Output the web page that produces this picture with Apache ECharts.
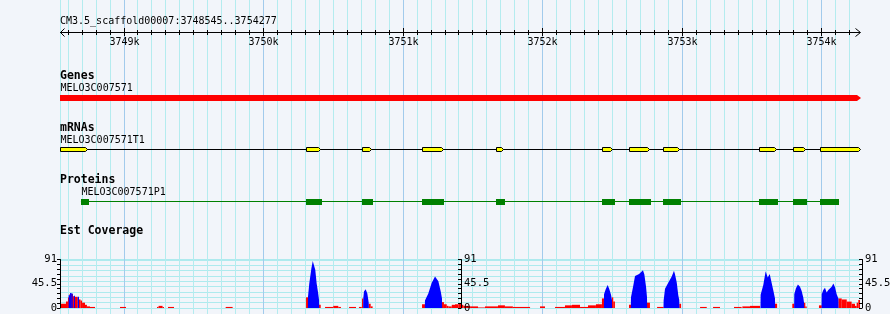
<!DOCTYPE html>
<html><head><meta charset="utf-8">
<script src="https://cdn.jsdelivr.net/npm/echarts@6/dist/echarts.min.js"></script>
<style>html,body{margin:0;padding:0;background:#f2f5fa}#c{width:890px;height:314px}</style>
</head><body><div id="c"></div><script>
// ---------- data ----------
const seqStart = 3748545, seqEnd = 3754277;
const titleText = 'CM3.5_scaffold00007:3748545..3754277';
const majorTicks = [3749000, 3750000, 3751000, 3752000, 3753000, 3754000];
const majorLabels = ['3749k', '3750k', '3751k', '3752k', '3753k', '3754k'];
const minorStep = 100;
const trackTitles = ['Genes', 'mRNAs', 'Proteins', 'Est Coverage'];
const geneName = 'MELO3C007571';
const mrnaName = 'MELO3C007571T1';
const proteinName = 'MELO3C007571P1';
const geneSpan = [3748545, 3754277];
const mrnaExons = [
  [3748545, 3748740], [3750308, 3750410], [3750711, 3750771], [3751141, 3751287],
  [3751669, 3751719], [3752431, 3752502], [3752622, 3752765], [3752866, 3752978],
  [3753554, 3753673], [3753797, 3753883], [3753991, 3754277]
];
const cdsBlocks = [
  [3748695, 3748753], [3750308, 3750422], [3750709, 3750788], [3751139, 3751297],
  [3751669, 3751734], [3752429, 3752522], [3752622, 3752780], [3752866, 3752995],
  [3753554, 3753690], [3753797, 3753898], [3753991, 3754127]
];
const covMax = 91;
const covLabels = ['0', '45.5', '91'];
// coverage histogram blocks: [start, end, value]
const redBlocks = [
  [3748545,3748588,8],[3748588,3748602,12],[3748602,3748613,20],[3748613,3748638,26],
  [3748638,3748645,22],[3748645,3748652,21],[3748652,3748670,21],[3748670,3748681,20],
  [3748681,3748692,16],[3748692,3748703,14],[3748703,3748724,10],[3748724,3748738,6],
  [3748738,3748760,3],[3748760,3748796,2],
  [3748975,3749018,2],
  [3749240,3749251,2],[3749251,3749280,4],[3749280,3749290,2],
  [3749319,3749362,2],
  [3749732,3749782,2],
  [3750308,3750322,20],
  [3750401,3750413,6],
  [3750444,3750503,2],[3750503,3750539,4],[3750539,3750558,2],
  [3750616,3750666,2],
  [3750687,3750707,2],
  [3750709,3750718,18],
  [3750757,3750771,8],[3750771,3750785,3],
  [3751139,3751160,7],
  [3751282,3751296,11],[3751296,3751316,7],
  [3751316,3751328,4],[3751328,3751352,3],[3751352,3751375,6],[3751375,3751399,7],[3751399,3751418,8],
  [3751418,3751435,6],[3751435,3751483,4],[3751483,3751540,3],[3751540,3751590,1],
  [3751590,3751683,3],[3751683,3751733,5],[3751733,3751790,3],[3751790,3751913,2],
  [3751984,3752020,3],
  [3752092,3752163,2],[3752163,3752213,5],[3752213,3752271,6],[3752271,3752328,2],
  [3752328,3752385,5],[3752385,3752428,7],
  [3752428,3752443,18],
  [3752500,3752509,20],[3752509,3752521,12],
  [3752622,3752636,6],
  [3752751,3752772,10],
  [3752823,3752870,2],
  [3752982,3752995,8],
  [3753131,3753179,2],
  [3753224,3753274,2],
  [3753374,3753429,2],
  [3753434,3753489,3],
  [3753489,3753561,4],
  [3753668,3753683,8],
  [3753792,3753806,8],
  [3753876,3753885,10],[3753885,3753895,3],
  [3753983,3754003,5],
  [3754122,3754146,18],[3754146,3754182,16],[3754182,3754217,12],[3754217,3754241,8],
  [3754241,3754253,4],[3754253,3754265,10],[3754265,3754277,15]
];
const blueBlocks = [
  [3748607,3748617,24],[3748617,3748628,28],[3748628,3748636,27],
  [3748645,3748652,23],[3748672,3748681,21]
];
// coverage peak profiles: [position, value]
const bluePeaks = [
  [[3750322,21],[3750331,46],[3750346,74],[3750356,88],[3750365,91],[3750374,72],[3750384,46],[3750394,29],[3750401,15]],
  [[3750718,18],[3750723,31],[3750735,35],[3750747,27],[3750757,10]],
  [[3751160,14],[3751184,27],[3751208,47],[3751232,59],[3751239,61],[3751256,50],[3751273,31],[3751282,18]],
  [[3752443,26],[3752455,35],[3752469,43],[3752481,35],[3752493,25],[3752500,15]],
  [[3752636,20],[3752651,40],[3752665,60],[3752679,63],[3752694,64],[3752708,67],[3752722,71],[3752732,63],[3752744,40],[3752751,20]],
  [[3752870,14],[3752880,36],[3752904,48],[3752928,59],[3752944,70],[3752951,64],[3752964,48],[3752975,24],[3752982,15]],
  [[3753565,25],[3753584,43],[3753601,69],[3753616,57],[3753630,64],[3753639,53],[3753656,33],[3753668,18]],
  [[3753806,26],[3753818,37],[3753832,44],[3753847,40],[3753859,32],[3753871,19],[3753876,10]],
  [[3754003,26],[3754014,34],[3754026,38],[3754038,29],[3754050,34],[3754062,37],[3754074,40],[3754086,46],[3754098,39],[3754110,26],[3754122,18]]
];

// ---------- style / layout ----------
const mono = '"DejaVu Sans Mono", "Liberation Mono", monospace';
const smallFont = '10px ' + mono;
const boldFont = 'bold 11.5px ' + mono;
const minorGridColor = '#b4ecef';
const majorGridColor = '#a2cbec';
const H = 314;

const tickData = [[seqStart, 0, 0]];
for (let t = Math.ceil(seqStart / minorStep) * minorStep; t <= seqEnd; t += minorStep) {
  tickData.push([t, 0, majorTicks.includes(t) ? 2 : 1]);
}
const px = (api, v) => api.coord([v, 0])[0];
const crisp = x => Math.round(x) + 0.5;

function renderGridLine(params, api) {
  const kind = api.value(2);
  const x = crisp(px(api, api.value(0)));
  return { type: 'line', shape: { x1: x, y1: 0, x2: x, y2: H },
    style: { stroke: kind === 2 ? majorGridColor : minorGridColor, lineWidth: 1 } };
}
function renderRulerTick(params, api) {
  const kind = api.value(2);
  const children = [];
  if (kind > 0) {
    const x = crisp(px(api, api.value(0)));
    children.push({ type: 'line', shape: { x1: x, y1: kind === 2 ? 28 : 30, x2: x, y2: kind === 2 ? 36 : 35 },
      style: { stroke: '#000', lineWidth: 1 } });
    if (kind === 2) {
      const i = majorTicks.indexOf(api.value(0));
      children.push({ type: 'text', style: { text: majorLabels[i], x: x, y: 42.5, align: 'center',
        verticalAlign: 'middle', font: smallFont, fill: '#000' } });
    }
  }
  return { type: 'group', children };
}
function renderRulerLine(params, api) {
  const x1 = px(api, api.value(0)), x2 = px(api, api.value(1));
  return { type: 'group', children: [
    { type: 'line', shape: { x1: x1, y1: 32.5, x2: x2, y2: 32.5 }, style: { stroke: '#000', lineWidth: 1 } },
    { type: 'polyline', shape: { points: [[x1 + 4.5, 28.5], [x1 + 0.5, 32.5], [x1 + 4.5, 36.5]] }, style: { stroke: '#000', fill: null, lineWidth: 1 } },
    { type: 'polyline', shape: { points: [[x2 - 4.5, 28.5], [x2 + 0.5, 32.5], [x2 - 4.5, 36.5]] }, style: { stroke: '#000', fill: null, lineWidth: 1 } },
    { type: 'text', style: { text: titleText, x: x1, y: 21, align: 'left', verticalAlign: 'middle', font: smallFont, fill: '#000' } }
  ] };
}
function renderGene(params, api) {
  const x1 = px(api, api.value(0)), x2 = px(api, api.value(1));
  return { type: 'group', children: [
    { type: 'polygon', shape: { points: [[x1, 95], [x2 - 3, 95], [x2 + 1, 98], [x2 - 3, 101], [x1, 101]] }, style: { fill: '#ff0000' } },
    { type: 'text', style: { text: geneName, x: x1 + 0.5, y: 88.5, align: 'left', verticalAlign: 'middle', font: smallFont, fill: '#000' } }
  ] };
}
function renderMrnaLine(params, api) {
  const x1 = px(api, api.value(0)), x2 = px(api, api.value(1));
  return { type: 'group', children: [
    { type: 'line', shape: { x1: x1, y1: 149.5, x2: x2, y2: 149.5 }, style: { stroke: '#000', lineWidth: 1 } },
    { type: 'text', style: { text: mrnaName, x: x1 + 0.5, y: 140.5, align: 'left', verticalAlign: 'middle', font: smallFont, fill: '#000' } }
  ] };
}
function renderExon(params, api) {
  const x1 = Math.round(px(api, api.value(0))) + 0.5, x2 = Math.round(px(api, api.value(1))) + 0.5;
  return { type: 'polygon', shape: { points: [[x1, 147.5], [x2 - 2, 147.5], [x2, 149.5], [x2 - 2, 151.5], [x1, 151.5]] },
    style: { fill: '#ffff00', stroke: '#000', lineWidth: 1 } };
}
function renderProteinLine(params, api) {
  const x1 = px(api, api.value(0)), x2 = px(api, api.value(1));
  return { type: 'group', children: [
    { type: 'line', shape: { x1: x1, y1: 201.5, x2: x2, y2: 201.5 }, style: { stroke: '#008000', lineWidth: 1 } },
    { type: 'text', style: { text: proteinName, x: x1 + 0.5, y: 192.5, align: 'left', verticalAlign: 'middle', font: smallFont, fill: '#000' } }
  ] };
}
function renderCds(params, api) {
  const x1 = Math.round(px(api, api.value(0))), x2 = Math.round(px(api, api.value(1)));
  return { type: 'rect', shape: { x: x1, y: 199, width: x2 - x1, height: 6 }, style: { fill: '#008000' } };
}
function makeBlockRenderer(color) {
  return function (params, api) {
    const a = api.coord([api.value(0), api.value(2)]);
    const b = api.coord([api.value(1), 0]);
    return { type: 'rect', shape: { x: a[0], y: a[1], width: b[0] - a[0], height: b[1] - a[1] }, style: { fill: color } };
  };
}
const blueLine = [];
bluePeaks.forEach(p => {
  blueLine.push([p[0][0] - 1, 0]);
  p.forEach(pt => blueLine.push(pt));
  blueLine.push([p[p.length - 1][0] + 1, 0]);
});

const covTickAxis = (pos, offset, inside, margin) => ({
  gridIndex: 1, type: 'value', position: pos, offset: offset, min: 0, max: covMax, interval: covMax / 10, z: 10,
  axisLine: { show: true, lineStyle: { color: '#000', width: 1 } },
  axisTick: { show: true, inside: inside, length: 3, lineStyle: { color: '#000', width: 1 } },
  axisLabel: { show: true, margin: margin, color: '#000', fontFamily: mono, fontSize: 10.5,
    formatter: v => { const m = covLabels.find(l => Math.abs(parseFloat(l) - v) < 1e-6); return m === undefined ? '' : m; } },
  splitLine: { show: false }
});

const chart = echarts.init(document.getElementById('c'));
chart.setOption({
  backgroundColor: '#f2f5fa',
  animation: false,
  grid: [
    { left: 60, right: 30, top: 0, bottom: 0, containLabel: false, outerBoundsMode: 'none' },
    { left: 60, right: 30, top: 259.5, height: 48.5, containLabel: false, outerBoundsMode: 'none' }
  ],
  xAxis: [
    { gridIndex: 0, type: 'value', min: seqStart, max: seqEnd, show: false },
    { gridIndex: 1, type: 'value', min: seqStart, max: seqEnd, show: false }
  ],
  yAxis: [
    { gridIndex: 0, type: 'value', min: 0, max: 1, show: false },
    { gridIndex: 1, type: 'value', min: 0, max: covMax, interval: 10,
      axisLine: { show: false }, axisTick: { show: false }, axisLabel: { show: false },
      splitLine: { show: true, lineStyle: { color: '#aeeaee', width: 1 } } },
    covTickAxis('left', 0, false, 3),
    covTickAxis('right', -399, true, 3),
    covTickAxis('right', 2, true, 3)
  ],
  graphic: [
    { type: 'text', z: 100, style: { text: trackTitles[0], x: 60, y: 76, font: boldFont, fill: '#000', verticalAlign: 'middle' } },
    { type: 'text', z: 100, style: { text: trackTitles[1], x: 60, y: 128, font: boldFont, fill: '#000', verticalAlign: 'middle' } },
    { type: 'text', z: 100, style: { text: trackTitles[2], x: 60, y: 180, font: boldFont, fill: '#000', verticalAlign: 'middle' } },
    { type: 'text', z: 100, style: { text: trackTitles[3], x: 60, y: 231.5, font: boldFont, fill: '#000', verticalAlign: 'middle' } }
  ],
  series: [
    { type: 'custom', xAxisIndex: 0, yAxisIndex: 0, z: 1, silent: true, renderItem: renderGridLine, encode: { x: 0, y: 1 }, data: tickData },
    { type: 'custom', xAxisIndex: 0, yAxisIndex: 0, z: 3, silent: true, renderItem: renderRulerTick, encode: { x: 0, y: 1 }, data: tickData },
    { type: 'custom', xAxisIndex: 0, yAxisIndex: 0, z: 3, silent: true, renderItem: renderRulerLine, encode: { x: [0, 1] }, data: [[seqStart, seqEnd]] },
    { type: 'custom', xAxisIndex: 0, yAxisIndex: 0, z: 3, silent: true, renderItem: renderGene, encode: { x: [0, 1] }, data: [geneSpan] },
    { type: 'custom', xAxisIndex: 0, yAxisIndex: 0, z: 3, silent: true, renderItem: renderMrnaLine, encode: { x: [0, 1] },
      data: [[mrnaExons[0][0], mrnaExons[mrnaExons.length - 1][1]]] },
    { type: 'custom', xAxisIndex: 0, yAxisIndex: 0, z: 4, silent: true, renderItem: renderExon, encode: { x: [0, 1] }, data: mrnaExons },
    { type: 'custom', xAxisIndex: 0, yAxisIndex: 0, z: 3, silent: true, renderItem: renderProteinLine, encode: { x: [0, 1] },
      data: [[cdsBlocks[0][0], cdsBlocks[cdsBlocks.length - 1][1]]] },
    { type: 'custom', xAxisIndex: 0, yAxisIndex: 0, z: 4, silent: true, renderItem: renderCds, encode: { x: [0, 1] }, data: cdsBlocks },
    { type: 'custom', xAxisIndex: 1, yAxisIndex: 1, z: 5, silent: true, renderItem: makeBlockRenderer('#ff0000'), encode: { x: [0, 1], y: 2 }, data: redBlocks },
    { type: 'custom', xAxisIndex: 1, yAxisIndex: 1, z: 6, silent: true, renderItem: makeBlockRenderer('#0000ff'), encode: { x: [0, 1], y: 2 }, data: blueBlocks },
    { type: 'line', xAxisIndex: 1, yAxisIndex: 1, z: 6, silent: true, showSymbol: false, symbol: 'none',
      lineStyle: { width: 0, opacity: 0 }, areaStyle: { color: '#0000ff', opacity: 1 }, data: blueLine }
  ]
});
</script></body></html>
